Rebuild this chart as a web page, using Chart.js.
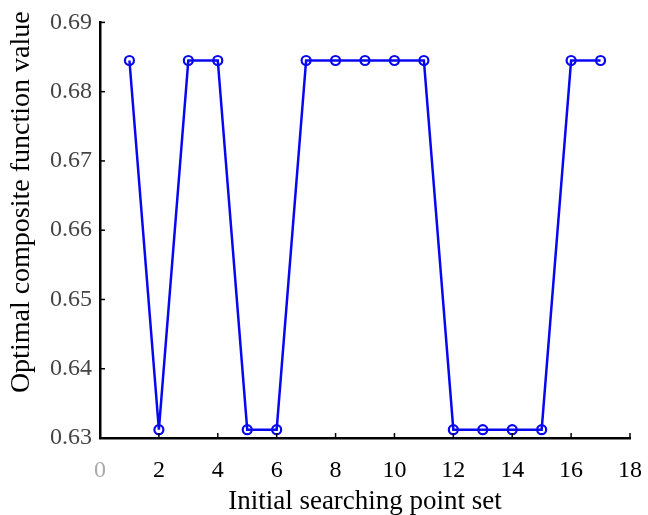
<!DOCTYPE html>
<html>
<head>
<meta charset="utf-8">
<script src="https://cdn.jsdelivr.net/npm/chart.js@4.4.0/dist/chart.umd.min.js"></script>
<style>
  html, body { margin: 0; padding: 0; background: #fff; }
  #wrap { width: 648px; height: 515px; }
</style>
</head>
<body>
<div id="wrap"><canvas id="myChart" width="648" height="515"></canvas></div>
<script>
// données
const pointSets = [1, 2, 3, 4, 5, 6, 7, 8, 9, 10, 11, 12, 13, 14, 15, 16, 17];
const optimalValues = [0.6845, 0.6312, 0.6845, 0.6845, 0.6312, 0.6312, 0.6845, 0.6845, 0.6845,
                       0.6845, 0.6845, 0.6312, 0.6312, 0.6312, 0.6312, 0.6845, 0.6845];
const xTicks = [0, 2, 4, 6, 8, 10, 12, 14, 16, 18];
const yTicks = [0.63, 0.64, 0.65, 0.66, 0.67, 0.68, 0.69];

const serif = '"Liberation Serif", "DejaVu Serif", serif';

// petits traits de graduation vers l'intérieur
const innerTicks = {
    id: 'innerTicks',
    afterDraw(chart) {
        const ctx = chart.ctx;
        const x = chart.scales.x, y = chart.scales.y;
        ctx.save();
        ctx.strokeStyle = '#000';
        ctx.lineWidth = 1.5;
        xTicks.forEach(v => {
            const px = x.getPixelForValue(v);
            ctx.beginPath();
            ctx.moveTo(px, y.bottom);
            ctx.lineTo(px, y.bottom - 5);
            ctx.stroke();
        });
        yTicks.forEach(v => {
            const py = y.getPixelForValue(v);
            ctx.beginPath();
            ctx.moveTo(x.left, py);
            ctx.lineTo(x.left + 5, py);
            ctx.stroke();
        });
        ctx.restore();
    }
};

const ctx = document.getElementById('myChart').getContext('2d');
const myChart = new Chart(ctx, {
    type: 'line',
    data: {
        datasets: [{
            data: pointSets.map((p, i) => ({ x: p, y: optimalValues[i] })),
            borderColor: '#0808f0',
            borderWidth: 2.5,
            pointStyle: 'circle',
            pointRadius: 4.5,
            pointBorderWidth: 2.2,
            pointBorderColor: '#0808f0',
            pointBackgroundColor: 'rgba(255,255,255,0)',
            fill: false,
            tension: 0
        }]
    },
    options: {
        responsive: false,
        animation: false,
        layout: { padding: { left: 0, top: 21, right: 18, bottom: 0 } },
        plugins: {
            legend: { display: false },
            tooltip: { enabled: false }
        },
        scales: {
            x: {
                type: 'linear',
                min: 0,
                max: 18,
                afterBuildTicks: s => { s.ticks = xTicks.map(v => ({ value: v })); },
                afterFit: s => { s.height = 77; s.paddingRight = 0; s.paddingLeft = 0; },
                grid: { display: false, drawTicks: false },
                border: { display: true, color: '#000', width: 2.5 },
                ticks: {
                    color: c => (c.tick && c.tick.value === 0 ? '#aaa' : '#000'),
                    padding: 18,
                    font: { family: serif, size: 24 },
                    maxRotation: 0
                },
                title: {
                    display: true,
                    text: 'Initial searching point set',
                    color: '#000',
                    font: { family: serif, size: 27 },
                    padding: { top: 0, bottom: -3 }
                }
            },
            y: {
                min: 0.63,
                max: 0.69,
                afterBuildTicks: s => { s.ticks = yTicks.map(v => ({ value: v })); },
                afterFit: s => { s.width = 100; },
                grid: { display: false, drawTicks: false },
                border: { display: true, color: '#000', width: 2.5 },
                ticks: {
                    color: '#444',
                    padding: 8,
                    font: { family: serif, size: 24 },
                    callback: v => v.toFixed(2)
                },
                title: {
                    display: true,
                    text: '\u00a0\u00a0\u00a0\u00a0\u00a0\u00a0\u00a0\u00a0Optimal composite function value',
                    color: '#000',
                    font: { family: serif, size: 28 },
                    padding: { top: 5, bottom: 0 }
                }
            }
        }
    },
    plugins: [innerTicks]
});
</script>
</body>
</html>
